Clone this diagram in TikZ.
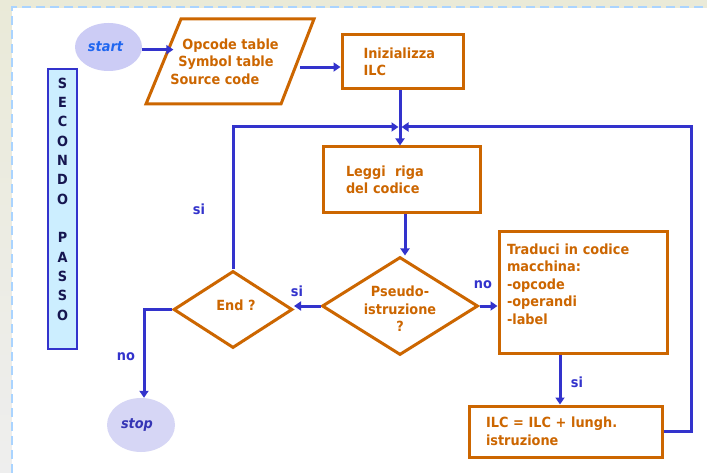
\documentclass[tikz,border=0pt]{standalone}
\usepackage{fontspec}
\setmainfont{DejaVu Sans}[FakeStretch=0.92]
\usetikzlibrary{shapes.geometric,arrows.meta,calc}
\definecolor{orng}{HTML}{CC6600}
\definecolor{blu}{HTML}{3333CC}
\definecolor{bgbeige}{HTML}{EAEAD8}
\definecolor{bggray}{HTML}{EEEEEE}
\definecolor{dashcol}{HTML}{AAD4FF}
\definecolor{startfill}{HTML}{CCCCF5}
\definecolor{stopfill}{HTML}{D6D6F5}
\definecolor{starttxt}{HTML}{2066F0}
\definecolor{stoptxt}{HTML}{3535B5}
\definecolor{spfill}{HTML}{CCEEFF}
\definecolor{navy}{HTML}{161650}
\begin{document}
\begin{tikzpicture}[x=1pt,y=-1pt,
  mainfont/.style={font=\bfseries\fontsize{14}{17.5}\selectfont},
  box/.style={draw=orng, line width=3pt, fill=white, text=orng, mainfont, align=left, inner ysep=0pt},
  dia/.style={diamond, draw=orng, line width=3pt, fill=white, inner sep=0.5pt},
  diatxt/.style={text=orng, mainfont, align=center, inner sep=0pt},
  term/.style={ellipse, draw=none, inner sep=0pt, font=\bfseries\itshape\fontsize{14}{15}\selectfont},
  conn/.style={draw=blu, line width=3pt},
  arr/.style={conn, -{Triangle[width=9pt,length=7pt]}},
  lbl/.style={text=blu, font=\bfseries\fontsize{14}{15}\selectfont, inner sep=0pt}]
\useasboundingbox (0,0) rectangle (707,473);
% background
\fill[bgbeige] (0,0) rectangle (707,473);
\shade[top color=bgbeige, bottom color=bggray] (0,0) rectangle (12,473);
\fill[white] (12,8) rectangle (707,473);
\draw[dashcol, line width=2pt, dash pattern=on 9pt off 5pt] (12,473) -- (12,7) -- (707,7);

% side banner
\node[draw=blu, line width=2.8pt, fill=spfill, minimum width=29, minimum height=280, inner sep=0pt] (sp) at (62.5,209) {};
\node[text=navy, font=\bfseries\fontsize{14}{19.33}\selectfont, align=center, inner sep=0pt] (sptxt) at ([yshift=10pt]sp.center) {S\\E\\C\\O\\N\\D\\O\\[19.33pt]P\\A\\S\\S\\O};

% terminals
\node[term, fill=startfill, text=starttxt, minimum width=67, minimum height=48] (start) at (108.5,47) {start\hspace*{6pt}};
\node[term, fill=stopfill, text=stoptxt, minimum width=68, minimum height=54] (stop) at (141,425) {stop\hspace*{8pt}};

% input parallelogram
\coordinate (pTL) at (181,19);
\coordinate (pTR) at (314,19);
\coordinate (pBR) at (281,104);
\coordinate (pBL) at (146,104);
\draw[orng, line width=3pt, fill=white, line join=miter] (pTL) -- (pTR) -- (pBR) -- (pBL) -- cycle;
\node[text=orng, mainfont, align=left, inner sep=0pt] (par) at (229,61.5) {\hspace*{12pt}Opcode table\hspace*{9pt}\\\hspace*{8pt}Symbol table\\Source code};

% process boxes
\node[box, minimum width=121, minimum height=54, inner xsep=21.5pt, text width=78pt] (ini) at (402.5,62) {Inizializza\\ILC};
\node[box, minimum width=157, minimum height=66, inner xsep=23pt, text width=111pt] (leggi) at (401.5,180) {Leggi\ \ riga\\del codice};
\node[box, minimum width=168, minimum height=121, inner xsep=8pt, text width=152pt] (trad) at (583,292.5) {Traduci in codice\\macchina:\\-opcode\\-operandi\\-label\\\mbox{}};
\node[box, minimum width=193, minimum height=51, inner xsep=17pt, text width=159pt] (ilc) at (565.5,431.5) {ILC = ILC + lungh.\\istruzione};

% decisions
\node[dia, minimum width=156, minimum height=98] (pseudo) at (400,306) {};
\node[diatxt] (pseudotxt) at (400,309) {Pseudo-\\istruzione\\?};
\node[dia, minimum width=119, minimum height=77] (endq) at (233,309.5) {};
\node[diatxt] (endtxt) at (236,305) {End ?};

% merge point and corner
\coordinate (merge) at (400,127);
\coordinate (rc) at (691,127);

% connectors
\coordinate (parin) at ($(pTL)!0.36!(pBL)$);
\draw[arr] (start.east |- parin) -- ([xshift=5pt]parin);
\coordinate (parout) at ($(pTR)!0.565!(pBR)$);
\draw[arr] ([xshift=5pt]parout) -- (parout -| ini.west);
\draw[arr] (ini.south -| merge) -- (merge |- leggi.north);
\draw[arr] (endq.north) |- ([xshift=-1.5pt]merge);
\draw[arr] (ilc.east) -| (rc) -- ([xshift=1.5pt]merge);
\draw[arr] ([xshift=3.5pt]leggi.south) -- ([xshift=3.5pt]leggi.south |- pseudo.north);
\draw[arr] (pseudo.east) -- (pseudo.east -| trad.west);
\draw[arr] (pseudo.west) -- (pseudo.west -| endq.east);
\draw[arr] ([xshift=-23pt]trad.south) -- ([xshift=-23pt]trad.south |- ilc.north);
\draw[arr] (endq.west) -| ([xshift=3pt]stop.north);

% labels
\node[lbl] (lsi1) at (199,209) {si};
\node[lbl] (lsi2) at (297,291) {si};
\node[lbl] (lno1) at (483,285) {no};
\node[lbl] (lsi3) at (577,382) {si};
\node[lbl] (lno2) at (126,357) {no};
\end{tikzpicture}
\end{document}
